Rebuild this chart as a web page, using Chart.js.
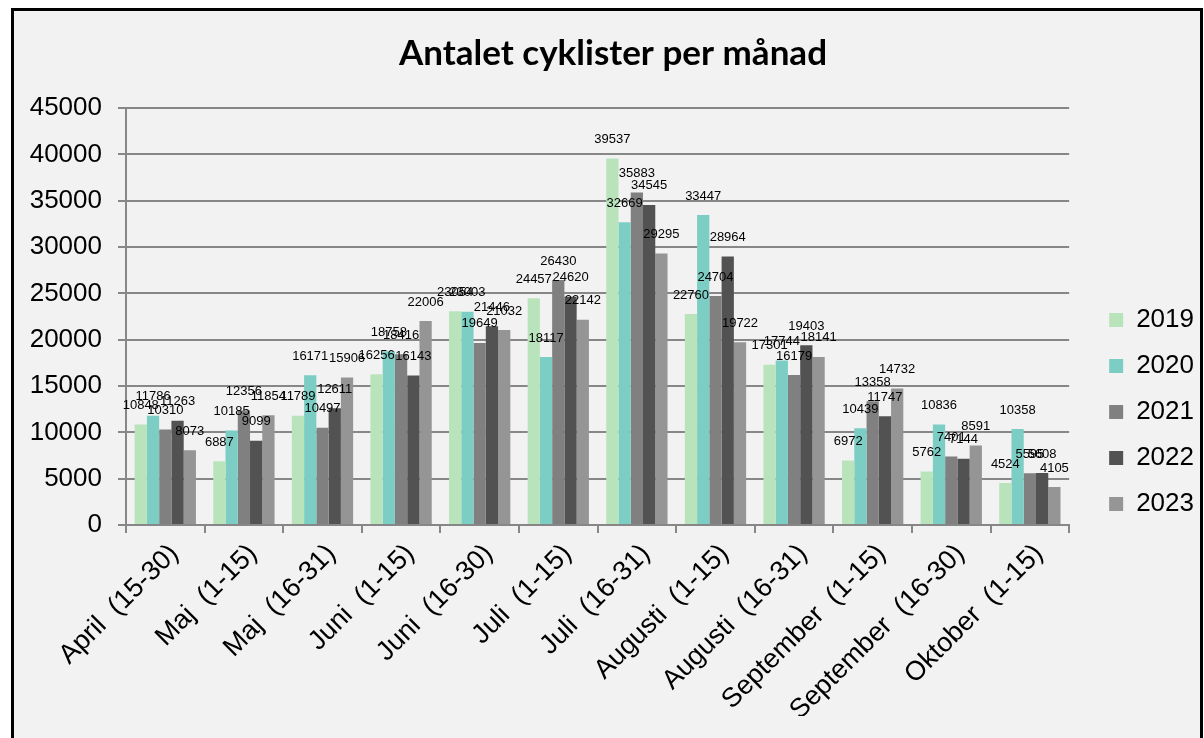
<!DOCTYPE html>
<html>
<head>
<meta charset="utf-8">
<script src="https://cdn.jsdelivr.net/npm/chart.js@4.4.1/dist/chart.umd.min.js"></script>
<style>
  html, body { margin: 0; padding: 0; background: #ffffff; }
  #wrap { width: 1204px; height: 738px; position: relative; }
</style>
</head>
<body>
<div id="wrap"><canvas id="c" width="1204" height="738"></canvas></div>
<script>
const chartTitle = "Antalet cyklister per månad";
const categories = [
  "April  (15-30)", "Maj  (1-15)", "Maj  (16-31)", "Juni  (1-15)", "Juni  (16-30)", "Juli  (1-15)",
  "Juli  (16-31)", "Augusti  (1-15)", "Augusti  (16-31)", "September  (1-15)", "September  (16-30)", "Oktober  (1-15)"
];
const seriesNames = ["2019", "2020", "2021", "2022", "2023"];
const values2019 = [10848, 6887, 11789, 16256, 23054, 24457, 39537, 22760, 17301, 6972, 5762, 4524];
const values2020 = [11786, 10185, 16171, 18758, 23003, 18117, 32669, 33447, 17744, 10439, 10836, 10358];
const values2021 = [10310, 12356, 10497, 18416, 19649, 26430, 35883, 24704, 16179, 13358, 7401, 5595];
const values2022 = [11263, 9099, 12611, 16143, 21446, 24620, 34545, 28964, 19403, 11747, 7144, 5608];
const values2023 = [8073, 11854, 15906, 22006, 21032, 22142, 29295, 19722, 18141, 14732, 8591, 4105];
const yTicks = [0, 5000, 10000, 15000, 20000, 25000, 30000, 35000, 40000, 45000];

const seriesValues = [values2019, values2020, values2021, values2022, values2023];
const seriesColors = ["#b9e4bb", "#7ccec5", "#808080", "#525252", "#959595"];
const gridColor = "#878787";

Chart.defaults.font.family = "'Liberation Sans', Arial, sans-serif";
Chart.defaults.color = "#000000";

const framePlugin = {
  id: "frame",
  beforeDraw(chart) {
    const ctx = chart.ctx;
    ctx.save();
    ctx.fillStyle = "#ffffff";
    ctx.fillRect(0, 0, chart.width, chart.height);
    ctx.fillStyle = "#f2f2f2";
    ctx.fillRect(12, 9, 1190, 740);
    ctx.strokeStyle = "#000000";
    ctx.lineWidth = 3;
    ctx.strokeRect(12.5, 9.5, 1189, 740);
    ctx.restore();
  },
  afterDraw(chart) {
    const ctx = chart.ctx;
    ctx.save();
    ctx.fillStyle = "#000000";
    ctx.font = "bold 35px Lato, 'Open Sans', sans-serif";
    ctx.textAlign = "center";
    ctx.textBaseline = "alphabetic";
    ctx.fillText(chartTitle, 613, 65);
    ctx.restore();
  }
};

const legendShift = {
  id: "legendShift",
  afterLayout(chart) {
    if (chart.legend) {
      chart.legend.left += 20;
      chart.legend.right += 20;
    }
  }
};

const valueLabels = {
  id: "valueLabels",
  afterDatasetsDraw(chart) {
    const ctx = chart.ctx;
    ctx.save();
    ctx.fillStyle = "#000000";
    ctx.font = "13px 'Liberation Sans', Arial, sans-serif";
    ctx.textAlign = "center";
    ctx.textBaseline = "middle";
    chart.data.datasets.forEach((ds, di) => {
      const meta = chart.getDatasetMeta(di);
      meta.data.forEach((bar, i) => {
        ctx.fillText(String(ds.data[i]), bar.x, bar.y - 19);
      });
    });
    ctx.restore();
  }
};

new Chart(document.getElementById("c"), {
  type: "bar",
  data: {
    labels: categories,
    datasets: seriesNames.map((name, k) => ({
      label: name,
      data: seriesValues[k],
      backgroundColor: seriesColors[k],
      borderWidth: 0,
      categoryPercentage: 0.78,
      barPercentage: 1.0
    }))
  },
  options: {
    responsive: false,
    devicePixelRatio: 1,
    animation: false,
    layout: { padding: { top: 108, left: 0, right: 20, bottom: 22 } },
    plugins: {
      title: { display: false },
      tooltip: { enabled: false },
      legend: {
        position: "right",
        align: "center",
        labels: {
          boxWidth: 14,
          boxHeight: 14,
          padding: 20,
          color: "#000000",
          font: { size: 26 }
        }
      }
    },
    scales: {
      x: {
        offset: true,
        grid: {
          offset: true,
          drawOnChartArea: false,
          drawTicks: true,
          tickLength: 8,
          color: gridColor,
          lineWidth: 2
        },
        border: { color: gridColor, width: 2 },
        ticks: {
          autoSkip: false,
          maxRotation: 45,
          minRotation: 45,
          padding: 5,
          labelOffset: 9,
          color: "#000000",
          font: { size: 27 }
        },
        afterFit(scale) { scale.height = 191; }
      },
      y: {
        min: 0,
        max: 45000,
        afterBuildTicks(scale) { scale.ticks = yTicks.map(v => ({ value: v })); },
        grid: {
          color: gridColor,
          lineWidth: 2,
          tickLength: 8
        },
        border: { color: gridColor, width: 2 },
        ticks: {
          padding: 16,
          color: "#000000",
          font: { size: 26 },
          callback: (v) => String(v)
        },
        afterFit(scale) { scale.width = 126; }
      }
    }
  },
  plugins: [framePlugin, legendShift, valueLabels]
});
</script>
</body>
</html>
